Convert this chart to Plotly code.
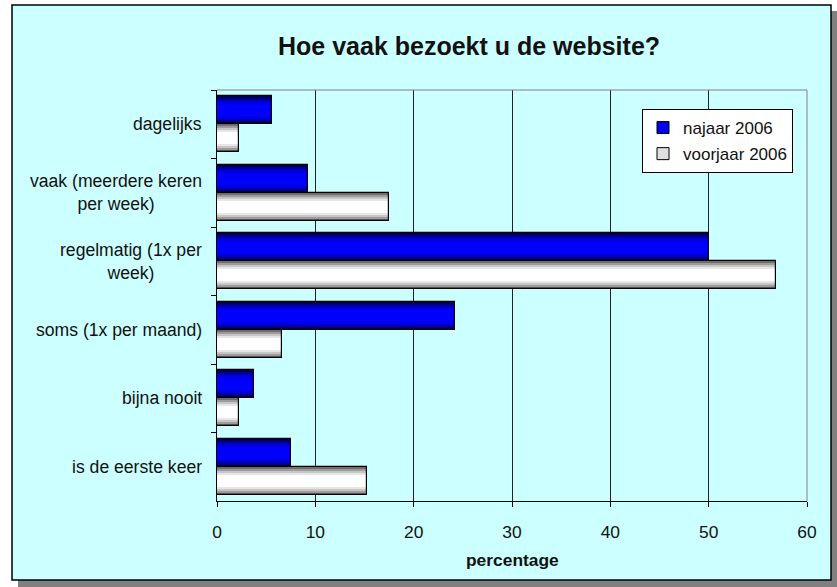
import plotly.graph_objects as go

# ---- data ----
categories = ["dagelijks", "vaak", "regelmatig", "soms", "bijna nooit", "eerste keer"]
category_labels = [
    "dagelijks",
    "vaak (meerdere keren<br>per week)",
    "regelmatig (1x per<br>week)",
    "soms (1x per maand)",
    "bijna nooit",
    "is de eerste keer",
]
najaar_2006 = [5.6, 9.3, 50.0, 24.2, 3.8, 7.5]
voorjaar_2006 = [2.2, 17.5, 56.8, 6.6, 2.2, 15.3]
x_ticks = [0, 10, 20, 30, 40, 50, 60]

# ---- layout geometry (pixels) ----
W, H = 837, 587
PL, PR, PT, PB = 217, 807, 90, 501
pw, ph = PR - PL, PB - PT


def px(x):
    return (x - PL) / pw


def py(y):
    return (PB - y) / ph


FONT = "Arial, Liberation Sans, sans-serif"
BW = 0.406  # bar thickness in category units

blue_layers = ["#000050", "#000090", "#0000c4", "#0000e8", "#0000ff"]
white_layers = ["#6e6e6e", "#9c9c9c", "#c6c6c6", "#e6e6e6", "#ffffff"]
fracs = [1.0, 0.86, 0.72, 0.58, 0.42]

fig = go.Figure()

series = [
    ("najaar 2006", najaar_2006, blue_layers, "#0000ee", -1),
    ("voorjaar 2006", voorjaar_2006, white_layers, "#e0e0e0", 1),
]

for name, vals, cols, legcol, side in series:
    center = side * BW / 2
    # legend carrier (full size, hidden below the gradient layers)
    fig.add_trace(go.Bar(
        y=categories, x=vals, orientation="h", name=name,
        width=BW, offset=center - BW / 2,
        marker=dict(color=legcol, line=dict(color="black", width=1)),
        legendgroup=name, showlegend=True, hoverinfo="skip",
    ))
    for f, c in zip(fracs, cols):
        w = BW * f
        fig.add_trace(go.Bar(
            y=categories, x=vals, orientation="h",
            width=w, offset=center - w / 2,
            marker=dict(color=c, line=dict(width=0)),
            showlegend=False, hoverinfo="skip",
        ))
    # outline on top
    fig.add_trace(go.Bar(
        y=categories, x=vals, orientation="h",
        width=BW, offset=center - BW / 2,
        marker=dict(color="rgba(0,0,0,0)", line=dict(color="black", width=1.2)),
        showlegend=False, hoverinfo="skip",
    ))

shapes = [
    # shadow
    dict(type="rect", xref="paper", yref="paper", layer="below",
         x0=px(18), x1=px(837), y0=py(587), y1=py(11),
         fillcolor="#808080", line=dict(width=0)),
    # chart area
    dict(type="rect", xref="paper", yref="paper", layer="below",
         x0=px(12), x1=px(831), y0=py(580), y1=py(5),
         fillcolor="#CCFFFF", line=dict(color="black", width=1.5)),
    # plot-area border top / right (gray)
    dict(type="path", xref="paper", yref="paper", layer="above",
         path="M 0,1 L 1,1 L 1,0", line=dict(color="#808080", width=1)),
]

annotations = []
for cat, lab in zip(categories, category_labels):
    annotations.append(dict(
        x=px(204), xref="paper", y=cat, yref="y", text=lab,
        showarrow=False, xanchor="right", yanchor="middle", align="center",
        font=dict(family=FONT, size=17.6, color="#111111"),
    ))
annotations.append(dict(
    x=0.5, xref="paper", y=py(560), yref="paper", text="<b>percentage</b>",
    showarrow=False, xanchor="center", yanchor="middle",
    font=dict(family=FONT, size=17.4, color="#111111"),
))
annotations.append(dict(
    x=px(469), xref="paper", y=py(46), yref="paper",
    text="<b>Hoe vaak bezoekt u de website?</b>",
    showarrow=False, xanchor="center", yanchor="middle",
    font=dict(family=FONT, size=25, color="#111111"),
))

fig.update_layout(
    width=W, height=H,
    margin=dict(l=PL, r=W - PR, t=PT, b=H - PB),
    paper_bgcolor="white", plot_bgcolor="#FFFF99",
    barmode="overlay", bargap=0,
    showlegend=True,
    legend=dict(
        x=px(642), y=py(109), xanchor="left", yanchor="top",
        bgcolor="white", bordercolor="black", borderwidth=1,
        font=dict(family=FONT, size=17, color="#111111"),
        traceorder="grouped", tracegroupgap=1,
        itemwidth=30,
    ),
    shapes=shapes, annotations=annotations,
    xaxis=dict(
        range=[0, 60], tickvals=x_ticks, ticktext=[str(t) for t in x_ticks],
        showgrid=True, gridcolor="#222222", gridwidth=1,
        showline=True, linecolor="black", linewidth=1,
        ticks="outside", ticklen=5, tickcolor="black",
        tickfont=dict(family=FONT, size=17.4, color="#111111"),
        ticklabelstandoff=10, zeroline=False, fixedrange=True,
    ),
    yaxis=dict(
        type="category", categoryorder="array", categoryarray=categories,
        autorange="reversed", showticklabels=False, showgrid=False,
        showline=True, linecolor="black", linewidth=1,
        ticks="outside", ticklen=5, tickcolor="black", tickson="boundaries",
        zeroline=False, fixedrange=True,
    ),
)

fig.write_html(
    "out.html",
    config={"displayModeBar": False},
    post_script="document.body.style.margin='0px';document.body.style.overflow='hidden';",
)
